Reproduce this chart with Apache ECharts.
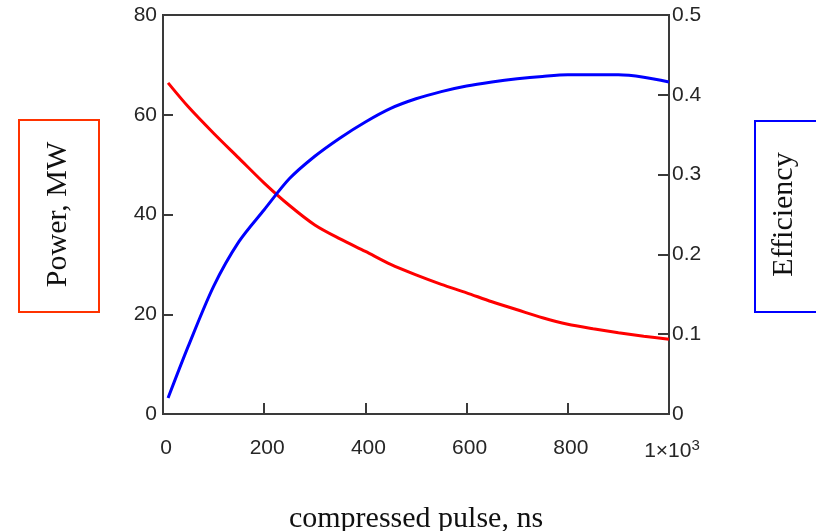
<!DOCTYPE html>
<html>
<head>
<meta charset="utf-8">
<script src="https://cdn.jsdelivr.net/npm/echarts@6/dist/echarts.min.js"></script>
<style>
  html, body { margin: 0; padding: 0; background: #fff; }
  #chart { width: 816px; height: 531px; }
</style>
</head>
<body>
<div id="chart"></div>
<script>
// Compressed pulse length, ns
const pulseNs = [10, 50, 100, 150, 200, 250, 300, 350, 400, 450, 500,
                 550, 600, 650, 700, 750, 800, 850, 900, 950, 1000];
// Output power, MW (left axis)
const powerMW = [66.4, 61.6, 56.3, 51.3, 46.3, 41.8, 37.9, 35.1, 32.6, 30.0, 27.9,
                 26.0, 24.3, 22.5, 20.9, 19.3, 18.0, 17.1, 16.3, 15.6, 15.0];
// Compression efficiency (right axis)
const efficiency = [0.020, 0.085, 0.160, 0.216, 0.256, 0.295, 0.323, 0.346, 0.366, 0.383, 0.395,
                    0.404, 0.411, 0.416, 0.420, 0.423, 0.425, 0.425, 0.425, 0.422, 0.416];

const xTicks = { min: 0, max: 1000, step: 200 };
const powerTicks = { min: 0, max: 80, step: 20 };
const effTicks = { min: 0, max: 0.5, step: 0.1 };

const axisColor = '#3a3a3a';
const labelFont = { fontFamily: '"Liberation Sans", Arial, sans-serif', fontSize: 21, color: '#262626' };
const titleFont = { fontFamily: '"Liberation Serif", "Times New Roman", serif', fontSize: 30, color: '#111' };

const chart = echarts.init(document.getElementById('chart'), null, { renderer: 'canvas' });

chart.setOption({
  animation: false,
  backgroundColor: '#ffffff',
  grid: {
    left: 163, right: 147, top: 15, bottom: 117,
    containLabel: false,
    outerBoundsMode: 'none',
    show: true, borderColor: axisColor, borderWidth: 2, backgroundColor: 'transparent'
  },
  xAxis: {
    type: 'value',
    min: xTicks.min, max: xTicks.max, interval: xTicks.step,
    name: 'compressed pulse, ns',
    nameLocation: 'middle',
    nameGap: 90,
    nameTextStyle: titleFont,
    axisLine: { show: true, lineStyle: { color: axisColor, width: 2 } },
    axisTick: { show: true, inside: true, length: 11, lineStyle: { color: axisColor, width: 2 } },
    splitLine: { show: false },
    axisLabel: Object.assign({}, labelFont, {
      margin: 24,
      padding: [0, 0, 0, 6],
      formatter: v => v === 1000 ? '1×10{sup|3}' : String(v),
      rich: {
        sup: { fontFamily: labelFont.fontFamily, fontSize: 15, color: labelFont.color, verticalAlign: 'top', padding: [0, 0, 12, 0] }
      }
    })
  },
  yAxis: [
    {
      type: 'value',
      position: 'left',
      min: powerTicks.min, max: powerTicks.max, interval: powerTicks.step,
      name: 'Power, MW',
      nameLocation: 'middle',
      nameGap: 90,
      nameRotate: 90,
      nameTextStyle: titleFont,
      axisLine: { show: true, lineStyle: { color: axisColor, width: 2 } },
      axisTick: { show: true, inside: true, length: 10, lineStyle: { color: axisColor, width: 2 } },
      splitLine: { show: false },
      axisLabel: Object.assign({}, labelFont, { margin: 6 })
    },
    {
      type: 'value',
      position: 'right',
      min: effTicks.min, max: effTicks.max, interval: effTicks.step,
      name: 'Efficiency',
      nameLocation: 'middle',
      nameGap: 100,
      nameRotate: 90,
      nameTextStyle: titleFont,
      axisLine: { show: true, lineStyle: { color: axisColor, width: 2 } },
      axisTick: { show: true, inside: true, length: 11, lineStyle: { color: axisColor, width: 2 } },
      splitLine: { show: false },
      axisLabel: Object.assign({}, labelFont, {
        margin: 3,
        formatter: v => String(Math.round(v * 10) / 10)
      })
    }
  ],
  series: [
    {
      name: 'Power',
      type: 'line',
      yAxisIndex: 0,
      data: pulseNs.map((x, i) => [x, powerMW[i]]),
      smooth: 0.3,
      showSymbol: false,
      lineStyle: { color: '#ff0000', width: 3 },
      itemStyle: { color: '#ff0000' },
      z: 3
    },
    {
      name: 'Efficiency',
      type: 'line',
      yAxisIndex: 1,
      data: pulseNs.map((x, i) => [x, efficiency[i]]),
      smooth: 0.3,
      showSymbol: false,
      lineStyle: { color: '#0000ff', width: 3 },
      itemStyle: { color: '#0000ff' },
      z: 4
    }
  ],
  graphic: [
    // frame around the left axis title
    {
      type: 'rect',
      shape: { x: 19, y: 120, width: 80, height: 192 },
      style: { fill: 'none', stroke: '#ff3300', lineWidth: 2 },
      silent: true
    },
    // frame around the right axis title
    {
      type: 'rect',
      shape: { x: 755, y: 121, width: 80, height: 191 },
      style: { fill: 'none', stroke: '#0000ff', lineWidth: 2 },
      silent: true
    }
  ]
});
</script>
</body>
</html>
